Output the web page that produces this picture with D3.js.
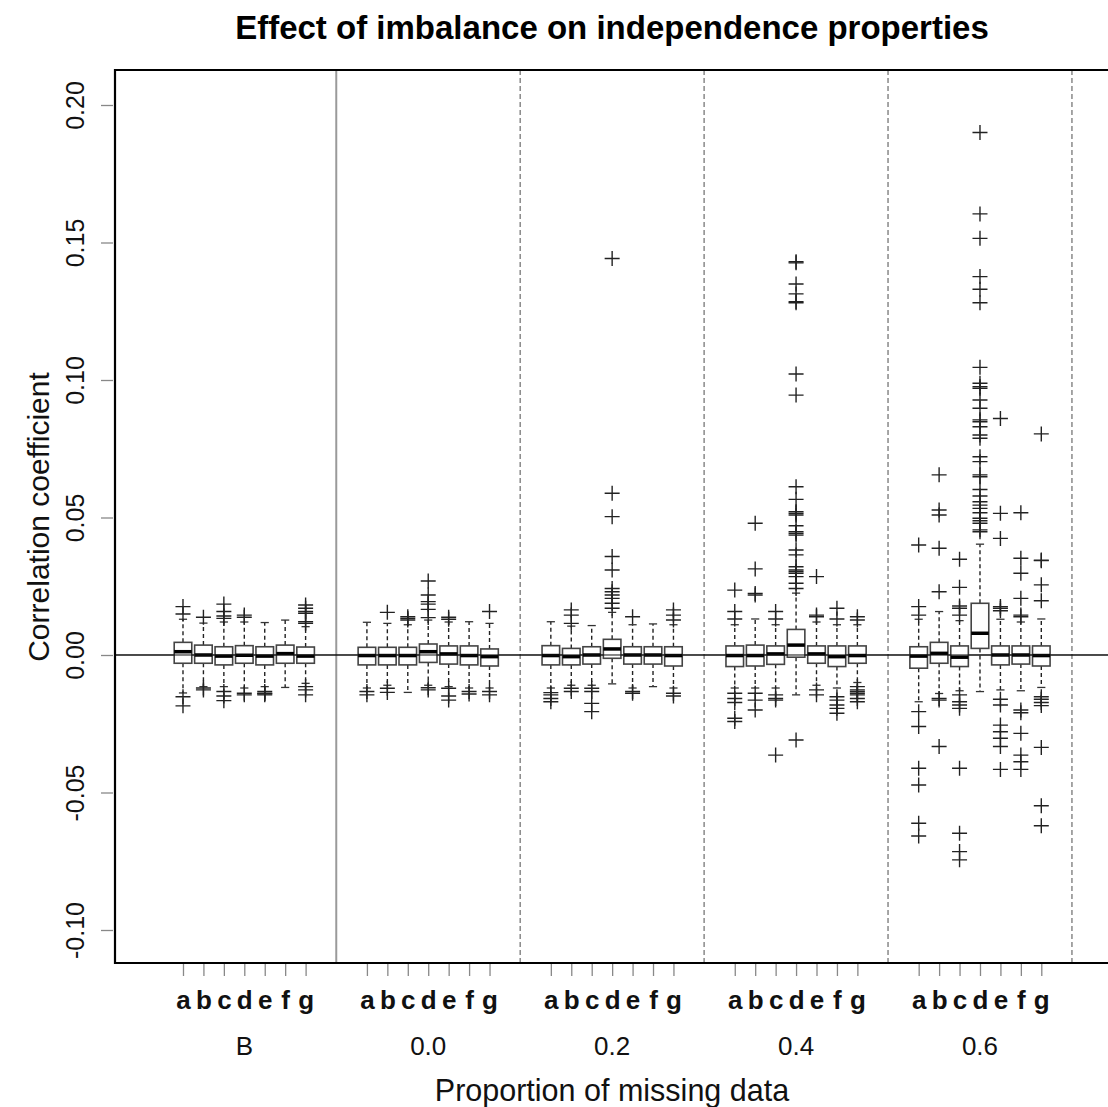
<!DOCTYPE html>
<html>
<head>
<meta charset="utf-8">
<script src="https://cdn.jsdelivr.net/npm/d3@7"></script>
<style>
  html, body { margin: 0; padding: 0; background: #fff; }
  svg { display: block; font-family: "Liberation Sans", Arial, Helvetica, sans-serif; }
</style>
</head>
<body>
<svg id="chart" width="1108" height="1107"></svg>
<script>
// ---------------- data ----------------
const groups = ["B", "0.0", "0.2", "0.4", "0.6"];
const methods = ["a", "b", "c", "d", "e", "f", "g"];
const yTicks = [-0.10, -0.05, 0.00, 0.05, 0.10, 0.15, 0.20];

// per group (rows) and method (columns)
const whiskerLow = [
  [-0.0138, -0.0115, -0.0115, -0.0120, -0.0115, -0.0118, -0.0103],
  [-0.0120, -0.0110, -0.0136, -0.0110, -0.0115, -0.0120, -0.0120],
  [-0.0120, -0.0110, -0.0110, -0.0105, -0.0120, -0.0115, -0.0120],
  [-0.0120, -0.0120, -0.0120, -0.0145, -0.0110, -0.0120, -0.0100],
  [-0.0170, -0.0140, -0.0130, -0.0133, -0.0127, -0.0130, -0.0118]
];
const q1 = [
  [-0.0030, -0.0030, -0.0036, -0.0030, -0.0036, -0.0030, -0.0030],
  [-0.0036, -0.0036, -0.0036, -0.0027, -0.0033, -0.0036, -0.0040],
  [-0.0036, -0.0036, -0.0033, -0.0012, -0.0033, -0.0033, -0.0040],
  [-0.0042, -0.0040, -0.0034, -0.0008, -0.0030, -0.0042, -0.0030],
  [-0.0048, -0.0030, -0.0042,  0.0024, -0.0036, -0.0033, -0.0040]
];
const median = [
  [ 0.0012,  0.0000, -0.0004, -0.0001, -0.0004,  0.0005, -0.0004],
  [-0.0002, -0.0002, -0.0002,  0.0012,  0.0004, -0.0002, -0.0006],
  [-0.0002, -0.0006,  0.0000,  0.0022,  0.0000,  0.0000, -0.0002],
  [-0.0002, -0.0002,  0.0004,  0.0036,  0.0004, -0.0006, -0.0002],
  [-0.0004,  0.0006, -0.0008,  0.0079,  0.0000,  0.0000, -0.0002]
];
const q3 = [
  [ 0.0046,  0.0036,  0.0030,  0.0034,  0.0030,  0.0036,  0.0029],
  [ 0.0028,  0.0028,  0.0028,  0.0040,  0.0033,  0.0033,  0.0022],
  [ 0.0034,  0.0024,  0.0030,  0.0057,  0.0030,  0.0030,  0.0030],
  [ 0.0033,  0.0036,  0.0033,  0.0093,  0.0033,  0.0033,  0.0033],
  [ 0.0030,  0.0046,  0.0033,  0.0188,  0.0033,  0.0033,  0.0033]
];
const whiskerHigh = [
  [ 0.0130,  0.0116,  0.0120,  0.0120,  0.0118,  0.0127,  0.0103],
  [ 0.0119,  0.0115,  0.0110,  0.0127,  0.0120,  0.0121,  0.0115],
  [ 0.0121,  0.0105,  0.0107,  0.0155,  0.0110,  0.0113,  0.0110],
  [ 0.0110,  0.0131,  0.0110,  0.0225,  0.0120,  0.0110,  0.0110],
  [ 0.0130,  0.0158,  0.0125,  0.0403,  0.0130,  0.0120,  0.0131]
];
const outliers = [
  [
    [0.0176, 0.0149, -0.0152, -0.0185],
    [0.0137, -0.0120, -0.0127],
    [0.0185, 0.0158, 0.0142, 0.0133, -0.0133, -0.0149, -0.0166],
    [0.0145, 0.0137, -0.0139, -0.0145],
    [-0.0133, -0.0139, -0.0141, -0.0145],
    [],
    [0.0182, 0.0170, 0.0158, 0.0152, 0.0121, 0.0115, -0.0115, -0.0127, -0.0145]
  ],
  [
    [-0.0133, -0.0145],
    [0.0155, -0.0121, -0.0136],
    [0.0139, 0.0133, 0.0127],
    [0.0269, 0.0218, 0.0194, 0.0185, 0.0166, 0.0136, -0.0119, -0.0127],
    [0.0137, 0.0130, -0.0121, -0.0149, -0.0164],
    [-0.0133, -0.0142],
    [0.0158, -0.0133, -0.0145]
  ],
  [
    [-0.0137, -0.0145, -0.0158, -0.0170],
    [0.0164, 0.0145, 0.0115, -0.0121, -0.0133],
    [-0.0121, -0.0133, -0.0176, -0.0206],
    [0.1442, 0.0588, 0.0503, 0.0358, 0.0309, 0.0242, 0.0230, 0.0218, 0.0206, 0.0188, 0.0170],
    [0.0139, -0.0133, -0.0139],
    [],
    [0.0164, 0.0145, 0.0127, -0.0139, -0.0149]
  ],
  [
    [0.0236, 0.0158, 0.0131, -0.0139, -0.0158, -0.0173, -0.0230, -0.0242],
    [0.0479, 0.0313, 0.0224, 0.0218, -0.0139, -0.0164, -0.0200],
    [0.0158, 0.0131, -0.0145, -0.0158, -0.0164, -0.0364],
    [0.1430, 0.1426, 0.1349, 0.1313, 0.1285, 0.1281, 0.1022, 0.0945, 0.0612, 0.0566,
     0.0521, 0.0515, 0.0509, 0.0470, 0.0448, 0.0442, 0.0436, 0.0382, 0.0364, 0.0321,
     0.0309, 0.0303, 0.0297, 0.0285, 0.0261, 0.0242, -0.0309],
    [0.0285, 0.0145, 0.0139, -0.0127, -0.0145],
    [0.0170, 0.0131, -0.0152, -0.0164, -0.0182, -0.0194, -0.0212],
    [0.0139, 0.0127, -0.0115, -0.0127, -0.0133, -0.0139, -0.0145, -0.0158, -0.0170]
  ],
  [
    [0.0400, 0.0176, 0.0145, -0.0206, -0.0260, -0.0412, -0.0473, -0.0612, -0.0658],
    [0.0655, 0.0527, 0.0509, 0.0388, 0.0230, -0.0158, -0.0164, -0.0333],
    [0.0348, 0.0246, 0.0178, 0.0170, 0.0145, -0.0145, -0.0170, -0.0182, -0.0194, -0.0412, -0.0648, -0.0715, -0.0745],
    [0.1900, 0.1604, 0.1515, 0.1376, 0.1330, 0.1281, 0.1046, 0.0988, 0.0976, 0.0970,
     0.0927, 0.0897, 0.0855, 0.0848, 0.0830, 0.0800, 0.0788, 0.0721, 0.0703, 0.0655,
     0.0648, 0.0602, 0.0578, 0.0557, 0.0545, 0.0533, 0.0517, 0.0497, 0.0488, 0.0479,
     0.0455, 0.0448],
    [0.0860, 0.0515, 0.0424, 0.0176, 0.0170, 0.0161, -0.0161, -0.0182, -0.0255, -0.0279, -0.0303, -0.0333, -0.0416],
    [0.0517, 0.0352, 0.0297, 0.0206, 0.0145, 0.0139, -0.0200, -0.0210, -0.0285, -0.0364, -0.0388, -0.0416],
    [0.0804, 0.0345, 0.0343, 0.0255, 0.0197, -0.0152, -0.0161, -0.0173, -0.0184, -0.0336, -0.0548, -0.0621]
  ]
];

// ---------------- layout ----------------
const svg = d3.select("#chart");
const plot = { left: 115, top: 70, right: 1140, bottom: 963 };

// position index: box i of group g sits at 1 + 9g + i
const pos = (g, i) => 1 + 9 * g + i;
const x = d3.scaleLinear().domain([-2.327, 47.83]).range([plot.left, plot.right]);
const y = d3.scaleLinear().domain([-0.112, 0.212727]).range([plot.bottom, plot.top]);

const boxHalf = 0.43;   // in position units
const capHalf = 0.2;

// separators
groups.forEach((gname, g) => {
  const sx = x(8.5 + 9 * g);
  svg.append("line")
    .attr("x1", sx).attr("x2", sx)
    .attr("y1", plot.top).attr("y2", plot.bottom)
    .attr("stroke", g === 0 ? "#9a9a9a" : "#777")
    .attr("stroke-width", g === 0 ? 2 : 1.3)
    .attr("stroke-dasharray", g === 0 ? null : "5,3");
});

// zero line
svg.append("line")
  .attr("x1", plot.left).attr("x2", plot.right)
  .attr("y1", y(0)).attr("y2", y(0))
  .attr("stroke", "#111").attr("stroke-width", 1.2);

// boxes
const boxes = [];
groups.forEach((gname, g) => methods.forEach((m, i) => {
  boxes.push({ g, i, p: pos(g, i),
    lo: whiskerLow[g][i], q1: q1[g][i], med: median[g][i], q3: q3[g][i], hi: whiskerHigh[g][i],
    out: outliers[g][i] });
}));

const bg = svg.append("g");
boxes.forEach(b => {
  const cx = x(b.p);
  const hw = x(b.p + boxHalf) - cx;
  const cw = x(b.p + capHalf) - cx;
  // whiskers
  bg.append("line").attr("x1", cx).attr("x2", cx).attr("y1", y(b.q3)).attr("y2", y(b.hi))
    .attr("stroke", "#222").attr("stroke-width", 1.4).attr("stroke-dasharray", "4,3");
  bg.append("line").attr("x1", cx).attr("x2", cx).attr("y1", y(b.q1)).attr("y2", y(b.lo))
    .attr("stroke", "#222").attr("stroke-width", 1.4).attr("stroke-dasharray", "4,3");
  bg.append("line").attr("x1", cx - cw).attr("x2", cx + cw).attr("y1", y(b.hi)).attr("y2", y(b.hi))
    .attr("stroke", "#333").attr("stroke-width", 1.3);
  bg.append("line").attr("x1", cx - cw).attr("x2", cx + cw).attr("y1", y(b.lo)).attr("y2", y(b.lo))
    .attr("stroke", "#333").attr("stroke-width", 1.3);
  // box
  bg.append("rect").attr("x", cx - hw).attr("y", y(b.q3))
    .attr("width", 2 * hw).attr("height", y(b.q1) - y(b.q3))
    .attr("fill", "#fff").attr("stroke", "#444").attr("stroke-width", 1.6);
  // median
  bg.append("line").attr("x1", cx - hw).attr("x2", cx + hw).attr("y1", y(b.med)).attr("y2", y(b.med))
    .attr("stroke", "#000").attr("stroke-width", 3.5);
  // outliers as "+"
  b.out.forEach(v => {
    const oy = y(v);
    bg.append("path")
      .attr("d", `M${cx - 7.5},${oy}H${cx + 7.5}M${cx},${oy - 7.5}V${oy + 7.5}`)
      .attr("stroke", "#222").attr("stroke-width", 1.4).attr("fill", "none");
  });
});

// zero line over boxes (thin)
svg.append("line")
  .attr("x1", plot.left).attr("x2", plot.right)
  .attr("y1", y(0)).attr("y2", y(0))
  .attr("stroke", "#111").attr("stroke-width", 1);

// frame: left, top, bottom
svg.append("path")
  .attr("d", `M${plot.right},${plot.top}H${plot.left}V${plot.bottom}H${plot.right}`)
  .attr("fill", "none").attr("stroke", "#000").attr("stroke-width", 2.2);

// y axis
const fmt = d3.format(".2f");
const yAxis = d3.axisLeft(y).tickValues(yTicks).tickSize(12)
  .tickFormat(d => fmt(d).replace("\u2212", "-"));
const ya = svg.append("g").attr("transform", `translate(${plot.left - 2},0)`).call(yAxis);
ya.select(".domain").remove();
ya.selectAll(".tick line").attr("stroke", "#888").attr("stroke-width", 1.3);
ya.selectAll(".tick text")
  .attr("x", null).attr("dy", null)
  .attr("transform", "translate(-38,0) rotate(-90)")
  .attr("text-anchor", "middle").attr("dominant-baseline", "central")
  .attr("font-size", 25).attr("fill", "#111")
  .attr("font-family", "Liberation Sans, Arial, sans-serif");

// x ticks with letters
const allPos = boxes.map(b => b.p);
const xAxis = d3.axisBottom(x).tickValues(allPos).tickSize(12)
  .tickFormat(p => methods[(p - 1) % 9]);
const xa = svg.append("g").attr("transform", `translate(0,${plot.bottom + 1})`).call(xAxis);
xa.select(".domain").remove();
xa.selectAll(".tick line").attr("stroke", "#888").attr("stroke-width", 1.3);
xa.selectAll(".tick text")
  .attr("y", 36).attr("dy", null).attr("dominant-baseline", "central")
  .attr("font-size", 26).attr("font-weight", "bold").attr("fill", "#111")
  .attr("font-family", "Liberation Sans, Arial, sans-serif");

// group labels
svg.append("g").selectAll("text").data(groups).join("text")
  .attr("x", (d, g) => x(pos(g, 3)))
  .attr("y", 1046)
  .attr("text-anchor", "middle").attr("dominant-baseline", "central")
  .attr("font-size", 26).attr("fill", "#111")
  .text(d => d);

// axis titles
svg.append("text")
  .attr("x", 612).attr("y", 1090)
  .attr("text-anchor", "middle").attr("dominant-baseline", "central")
  .attr("font-size", 30.5).attr("fill", "#111")
  .text("Proportion of missing data");

svg.append("text")
  .attr("transform", "translate(38,517) rotate(-90)")
  .attr("text-anchor", "middle").attr("dominant-baseline", "central")
  .attr("font-size", 30).attr("fill", "#111")
  .text("Correlation coefficient");

// title
svg.append("text")
  .attr("x", 612).attr("y", 27)
  .attr("text-anchor", "middle").attr("dominant-baseline", "central")
  .attr("font-size", 33).attr("font-weight", "bold").attr("fill", "#000")
  .text("Effect of imbalance on independence properties");
</script>
</body>
</html>
